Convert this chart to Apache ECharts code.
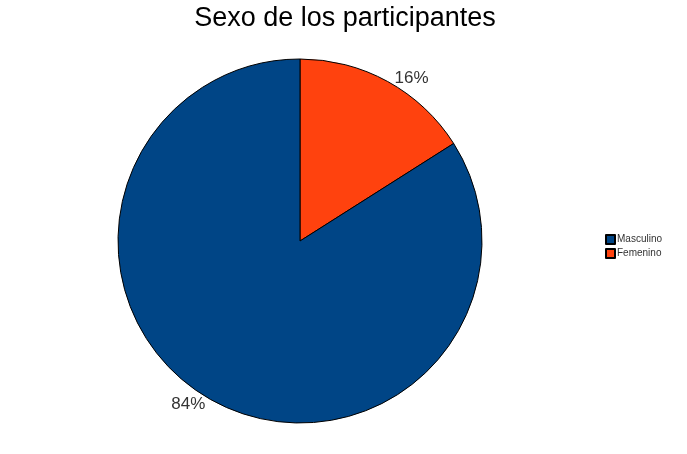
<!DOCTYPE html>
<html><head><meta charset="utf-8">
<script src="https://cdn.jsdelivr.net/npm/echarts@6/dist/echarts.min.js"></script>
<style>html,body{margin:0;background:#fff}#c{width:687px;height:454px}</style>
</head><body><div id="c"></div>
<script>
const categories = ["Masculino", "Femenino"];
const values = [84, 16];
const colors = ["#004586", "#ff420e"];
const chart = echarts.init(document.getElementById('c'));
chart.setOption({
  animation: false,
  title: { text: "Sexo de los participantes", left: 340, textAlign: 'center', top: 0,
    textStyle: { fontFamily: 'Liberation Sans', fontWeight: 'normal', fontSize: 27, color: '#000' } },
  legend: { orient: 'vertical', left: 600, top: 229, itemWidth: 9, itemHeight: 9, itemGap: 3,
    icon: 'rect', textStyle: { fontFamily: 'Liberation Sans', fontSize: 10, color: '#333', padding: [0,0,0,-3] },
    data: categories },
  series: [{
    type: 'pie', center: [300, 241], radius: 182, startAngle: 90, clockwise: true,
    data: [
      { name: categories[1], value: values[1], itemStyle: { color: colors[1] } },
      { name: categories[0], value: values[0], itemStyle: { color: colors[0] } }
    ],
    itemStyle: { borderColor: '#000', borderWidth: 1 },
    label: { show: true, position: 'outside', formatter: '{c}%', fontFamily: 'Liberation Sans', fontSize: 17, color: '#333' },
    labelLine: { show: false, length: 4, length2: 0 },
    emphasis: { disabled: true }
  }]
});
</script></body></html>
